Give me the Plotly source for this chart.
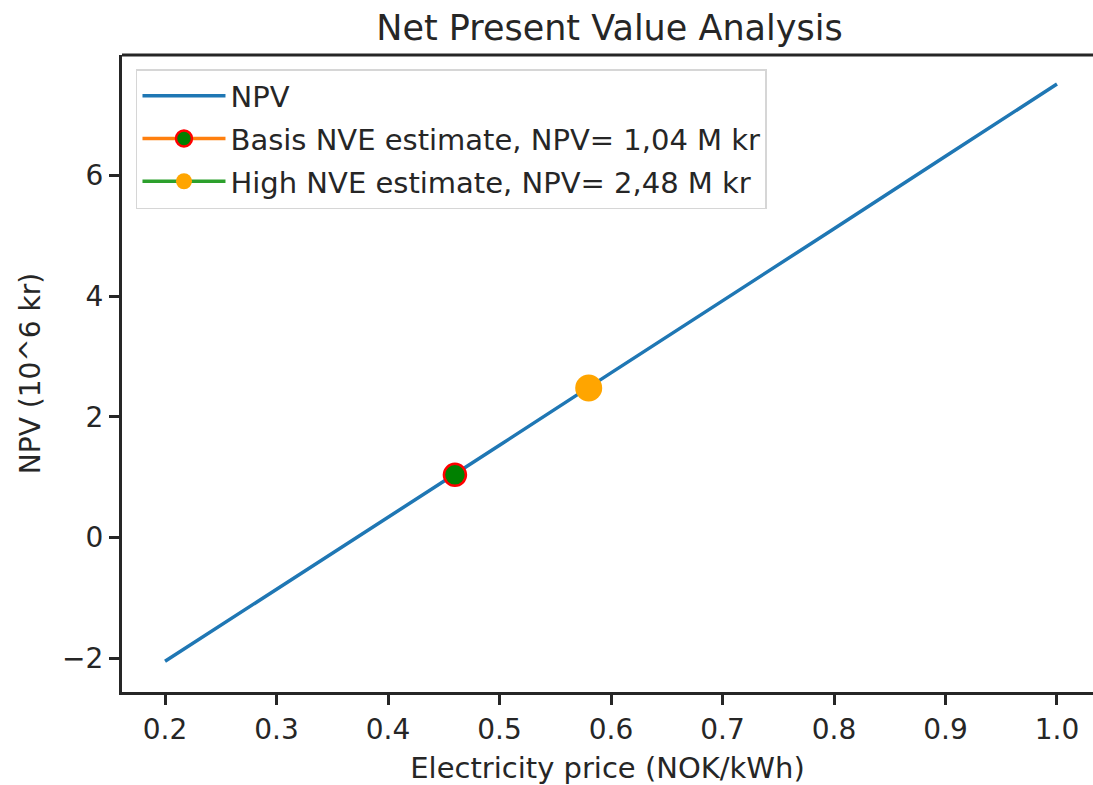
import plotly.graph_objects as go

# Data
price = [0.2, 0.3, 0.4, 0.5, 0.6, 0.7, 0.8, 0.9, 1.0]
npv = [-2.05, -0.86, 0.34, 1.53, 2.73, 3.92, 5.12, 6.32, 7.52]
basis_price = [0.46]
basis_npv = [1.04]
high_price = [0.58]
high_npv = [2.48]
x_ticks = [0.2, 0.3, 0.4, 0.5, 0.6, 0.7, 0.8, 0.9, 1.0]
x_ticktext = ["0.2", "0.3", "0.4", "0.5", "0.6", "0.7", "0.8", "0.9", "1.0"]
y_ticks = [-2, 0, 2, 4, 6]
y_ticktext = ["\u22122", "0", "2", "4", "6"]

FONT = "DejaVu Sans"
TXT = "#262626"

fig = go.Figure()
fig.add_trace(go.Scatter(
    x=price, y=npv, mode="lines", name="NPV",
    line=dict(color="#1f77b4", width=3.5), legendgroup="a",
))
fig.add_trace(go.Scatter(
    x=basis_price, y=basis_npv, mode="lines+markers",
    name="Basis NVE estimate, NPV= 1,04 M kr",
    line=dict(color="#ff7f0e", width=3.5),
    marker=dict(color="green", size=22, line=dict(color="red", width=2.5)),
    legendgroup="b",
))
fig.add_trace(go.Scatter(
    x=high_price, y=high_npv, mode="lines+markers",
    name="High NVE estimate, NPV= 2,48 M kr",
    line=dict(color="#2ca02c", width=3.5),
    marker=dict(color="#ffa500", size=27, line=dict(width=0)),
    legendgroup="c",
))

fig.update_layout(
    width=1093, height=785,
    margin=dict(l=122, r=0, t=55, b=93),
    paper_bgcolor="white", plot_bgcolor="white",
    font=dict(family=FONT, size=28, color=TXT),
    title=dict(text="Net Present Value Analysis", x=0.502, xref="paper",
               xanchor="center", y=1 - 28 / 785, yref="container", yanchor="middle",
               font=dict(size=35, color=TXT, family=FONT)),
    legend=dict(x=0.0144, y=0.978, xanchor="left", yanchor="top",
                bgcolor="white", bordercolor="#d6d6d6", borderwidth=1.5,
                font=dict(size=29, color=TXT, family=FONT),
                itemwidth=83, tracegroupgap=2),
    showlegend=True,
    shapes=[dict(type="line", xref="paper", yref="paper", x0=0, x1=1, y0=1, y1=1,
                 line=dict(color=TXT, width=3), layer="above")],
)
fig.update_xaxes(
    range=[0.1614, 1.0323], tickvals=x_ticks, ticktext=x_ticktext,
    showgrid=False, zeroline=False,
    showline=True, linecolor=TXT, linewidth=3, mirror=False,
    ticks="outside", ticklen=10, tickwidth=2.5, tickcolor=TXT,
    tickfont=dict(size=28),
    title=dict(text="Electricity price (NOK/kWh)", standoff=14,
               font=dict(size=29, color=TXT, family=FONT)),
)
fig.update_yaxes(
    range=[-2.56, 8.0], tickvals=y_ticks, ticktext=y_ticktext,
    showgrid=False, zeroline=False,
    showline=True, linecolor=TXT, linewidth=3, mirror=False,
    ticks="outside", ticklen=10, tickwidth=2.5, tickcolor=TXT,
    tickfont=dict(size=28),
    title=dict(text="NPV (10^6 kr)", standoff=14,
               font=dict(size=28, color=TXT, family=FONT)),
)

fig.write_html("out.html")
